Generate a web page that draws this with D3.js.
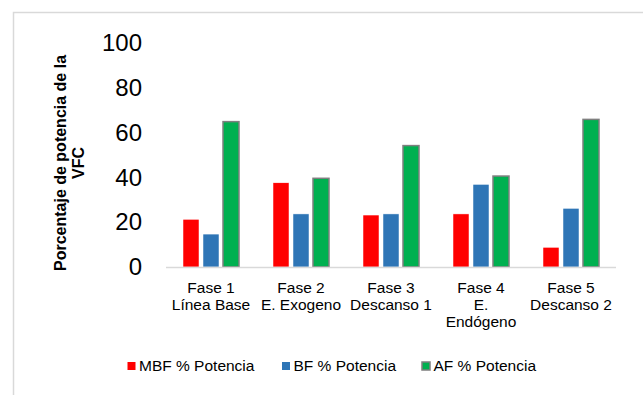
<!DOCTYPE html>
<html>
<head>
<meta charset="UTF-8">
<title>Porcentaje de potencia de la VFC</title>
<script src="https://d3js.org/d3.v7.min.js"></script>
<style>
  body { margin: 0; background: #fff; }
  text { font-family: "Liberation Sans", Arial, sans-serif; fill: #000; }
</style>
</head>
<body>
<svg width="643" height="395"></svg>
<script>

// data
var phases = ["Fase 1", "Fase 2", "Fase 3", "Fase 4", "Fase 5"];
var phaseLabels = [
  ["Fase 1", "Línea Base"],
  ["Fase 2", "E. Exogeno"],
  ["Fase 3", "Descanso 1"],
  ["Fase 4", "E.", "Endógeno"],
  ["Fase 5", "Descanso 2"]
];
var seriesNames = ["MBF % Potencia", "BF % Potencia", "AF % Potencia"];
var mbf = [21.3, 37.6, 23.2, 23.7, 8.8];
var bf  = [14.7, 23.7, 23.7, 36.9, 26.2];
var af  = [64.9, 39.6, 54.2, 40.6, 65.9];
var yTicks = [0, 20, 40, 60, 80, 100];

var colors = ["#ff0000", "#2e75b6", "#00b050"];
var values = [mbf, bf, af];

var svg = d3.select("svg");

// outer frame of the chart area
svg.append("path")
    .attr("d", "M13.5,395 V12.5 H643")
    .attr("fill", "none")
    .attr("stroke", "#d9d9d9")
    .attr("stroke-width", 1.5);

var x0 = d3.scaleBand()
    .domain(phases)
    .range([166, 616])
    .padding(0);

var x1 = d3.scaleBand()
    .domain(seriesNames)
    .range([17, 73])
    .paddingInner(0.2)
    .paddingOuter(0);

var y = d3.scaleLinear()
    .domain([0, 100])
    .range([267, 43]);

// y axis labels (no line, no ticks)
var yAxis = svg.append("g")
    .attr("transform", "translate(142,0)")
    .call(d3.axisLeft(y).tickValues(yTicks).tickSize(0).tickPadding(0));
yAxis.select(".domain").remove();
yAxis.selectAll("text")
    .style("font-family", "'Liberation Sans', Arial, sans-serif")
    .attr("font-size", 24)
    .attr("fill", "#000");

// bars
var groups = svg.append("g").selectAll("g")
  .data(phases)
  .enter().append("g")
    .attr("transform", function(d) { return "translate(" + x0(d) + ",0)"; });

groups.selectAll("rect")
  .data(function(d, i) {
    return seriesNames.map(function(s, j) { return {s: s, j: j, v: values[j][i]}; });
  })
  .enter().append("rect")
    .attr("x", function(d) { return x1(d.s); })
    .attr("width", x1.bandwidth())
    .attr("y", function(d) { return y(d.v); })
    .attr("height", function(d) { return y(0) - y(d.v); })
    .attr("fill", function(d) { return colors[d.j]; })
    .attr("stroke", function(d) { return d.j == 2 ? "#7f7f7f" : "#ffffff"; })
    .attr("stroke-width", function(d) { return d.j == 2 ? 1.5 : 0.5; });

// x axis line
svg.append("line")
    .attr("x1", x0.range()[0])
    .attr("x2", x0.range()[1])
    .attr("y1", y(0) + 0.5)
    .attr("y2", y(0) + 0.5)
    .attr("stroke", "#d9d9d9")
    .attr("stroke-width", 1.5);

// category labels
var cat = svg.append("g").selectAll("text")
  .data(phases)
  .enter().append("text")
    .attr("text-anchor", "middle")
    .attr("font-size", 15.5)
    .attr("x", function(d) { return x0(d) + x0.bandwidth() / 2; })
    .attr("y", 292.5);

cat.selectAll("tspan")
  .data(function(d, i) { return phaseLabels[i]; })
  .enter().append("tspan")
    .attr("x", function() { return d3.select(this.parentNode).attr("x"); })
    .attr("dy", function(d, i) { return i ? 17.3 : 0; })
    .text(function(d) { return d; });

// y axis title
var title = svg.append("text")
    .attr("transform", "translate(0,163) rotate(-90)")
    .attr("text-anchor", "middle")
    .attr("font-size", 16)
    .attr("font-weight", "bold");
title.append("tspan").attr("x", 0).attr("y", 66).text("Porcentaje de potencia de la");
title.append("tspan").attr("x", 0).attr("y", 83.5).text("VFC");

// legend
var legendX = [127.5, 282, 422];
var legend = svg.append("g").selectAll("g")
  .data(seriesNames)
  .enter().append("g")
    .attr("transform", function(d, i) { return "translate(" + legendX[i] + ",362)"; });

legend.append("rect")
    .attr("width", 8)
    .attr("height", 8)
    .attr("fill", function(d, i) { return colors[i]; })
    .attr("stroke", function(d, i) { return i == 2 ? "#7f7f7f" : "none"; })
    .attr("stroke-width", 1.5);

legend.append("text")
    .attr("x", 11.5)
    .attr("y", 9)
    .attr("font-size", 15.5)
    .text(function(d) { return d; });

</script>
</body>
</html>
